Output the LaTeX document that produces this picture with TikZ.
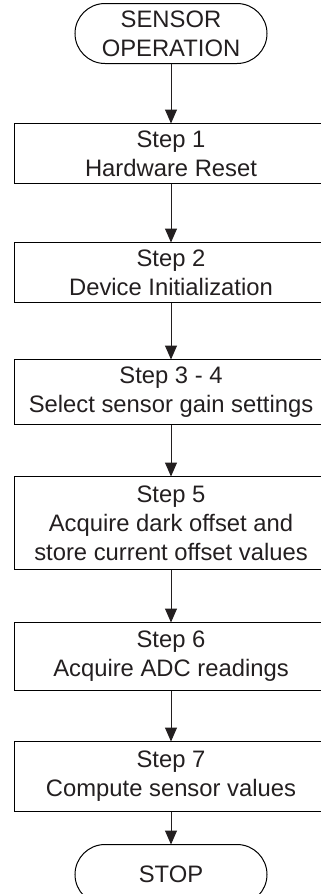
\documentclass[tikz,border=0pt]{standalone}
\usepackage{fontspec}
\setmainfont{Liberation Sans}
\usetikzlibrary{shapes.misc, arrows.meta}

\definecolor{ink}{RGB}{35,31,32}

\tikzset{
  process/.style={draw, shape=rectangle, minimum width=312pt, align=center},
  terminal/.style={draw, shape=rounded rectangle, minimum width=192pt, minimum height=60pt, align=center},
}

\begin{document}
\begin{tikzpicture}[->, >={Triangle[width=12pt,length=14pt]}, line width=1pt, color=ink,
                    font=\fontsize{23.8}{29}\selectfont]
		\useasboundingbox (0,0) rectangle (321pt,-894pt);
		\clip (0,0) rectangle (321pt,-894pt);
		\matrix [row sep=56pt, inner sep=0pt, outer sep=0pt, anchor=north] at (171pt,-3pt) {
			\node (start) [terminal] {SENSOR\\OPERATION}; \\[3pt]
			\node (s1) [process, minimum height=60pt] {Step 1\\Hardware Reset}; \\[2pt]
			\node (s2) [process, minimum height=60pt] {Step 2\\Device Initialization}; \\[0pt]
			\node (s3) [process, minimum height=65pt] {Step 3 - 4\\Select sensor gain settings}; \\[-5pt]
			\node (s5) [process, minimum height=93pt] {Step 5\\Acquire dark offset and\\store current offset values}; \\[-4pt]
			\node (s6) [process, minimum height=68pt] {Step 6\\Acquire ADC readings}; \\[-6pt]
			\node (s7) [process, minimum height=70pt] {Step 7\\Compute sensor values}; \\[-24pt]
			\node (stop) [terminal] {STOP}; \\
		};
		\draw       (start) -- (s1);
		\draw       (s1) -- (s2);
		\draw       (s2) -- (s3);
		\draw       (s3) -- (s5);
		\draw       (s5) -- (s6);
		\draw       (s6) -- (s7);
		\draw       (s7) -- (stop);
		\end{tikzpicture}
\end{document}
